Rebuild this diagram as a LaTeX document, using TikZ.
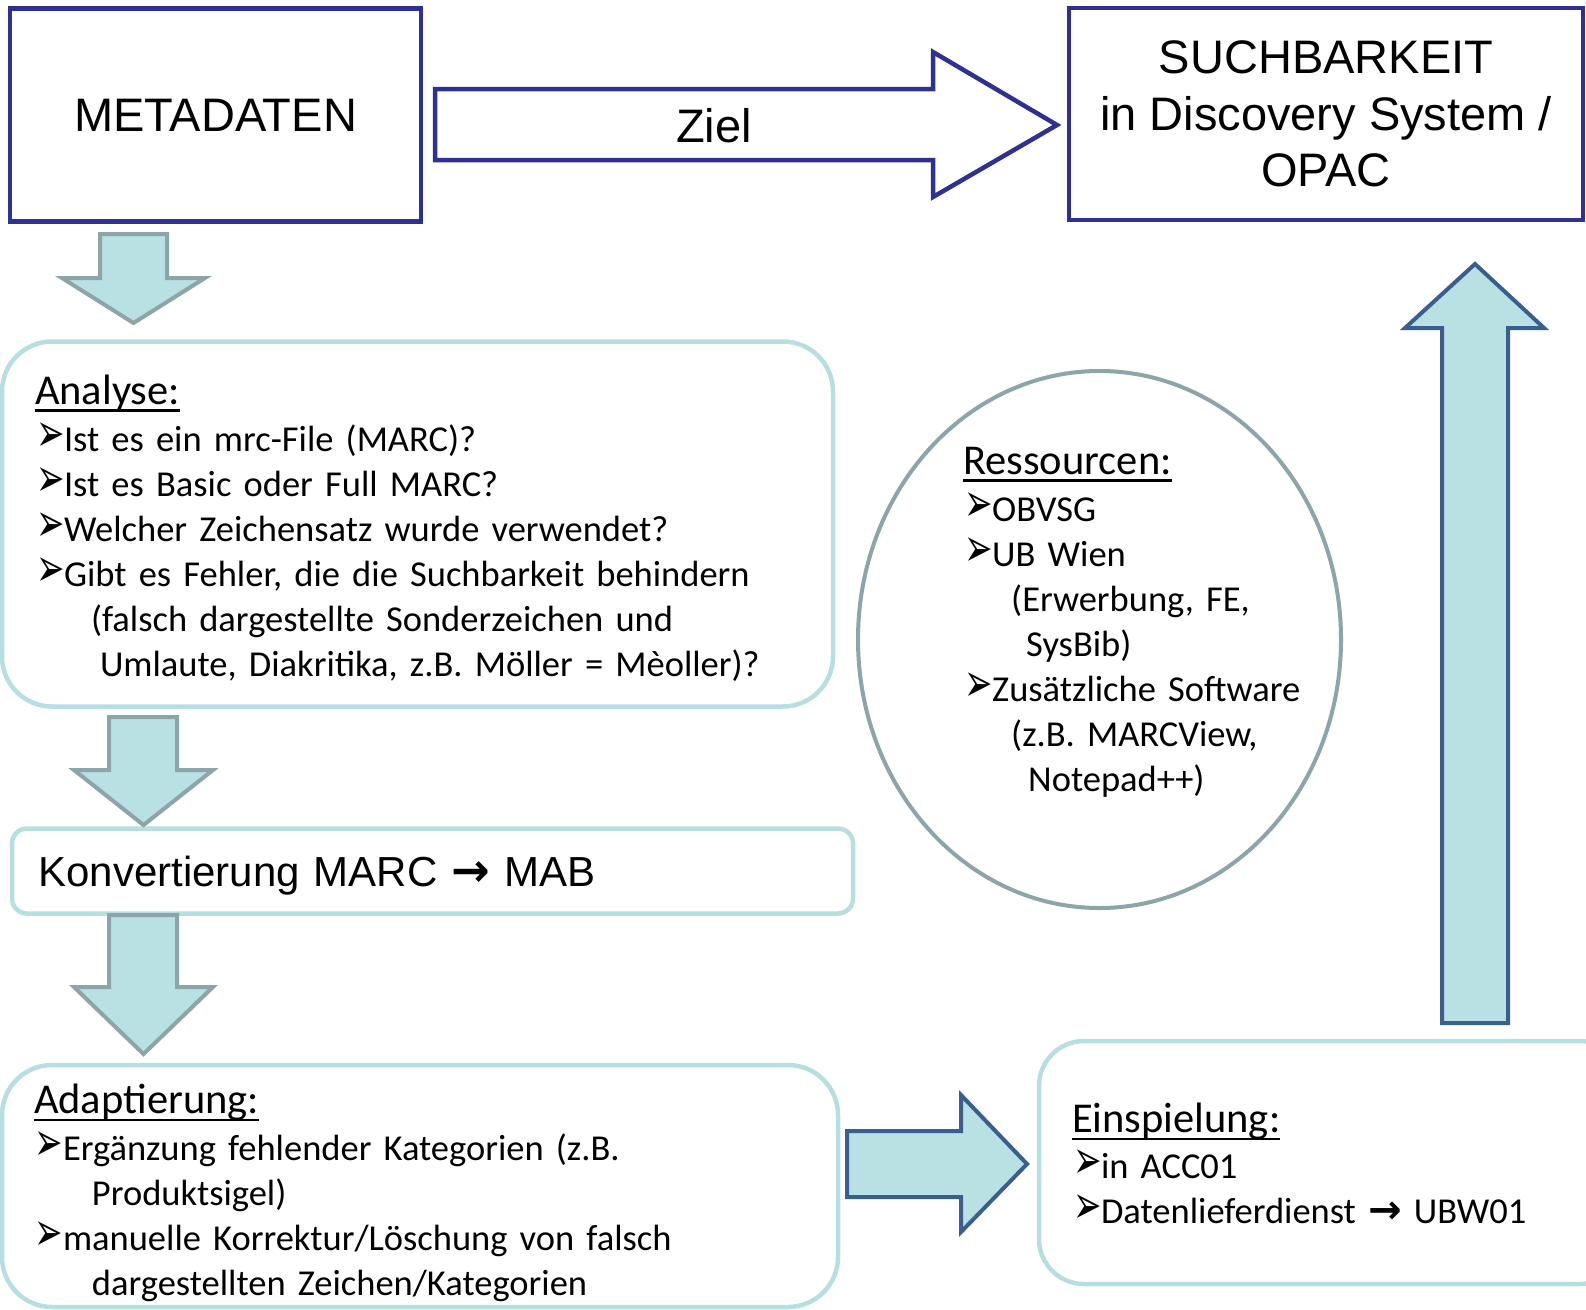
\documentclass[tikz,border=0pt]{standalone}
\usepackage{fontspec}
\usepackage{graphicx}
\setmainfont{Carlito}
\newfontfamily\arialfont{Liberation Sans}
\newfontfamily\symbolfont{DejaVu Sans}
\usetikzlibrary{shapes.geometric, positioning, calc}

\definecolor{navy}{RGB}{46,49,146}
\definecolor{cyanline}{RGB}{183,222,225}
\definecolor{cyanfill}{RGB}{185,224,227}
\definecolor{tealgrey}{RGB}{139,165,168}
\definecolor{steelblue}{RGB}{58,95,142}

% Aufzaehlungszeichen, Pfeil und unterstrichene Ueberschrift
\newcommand{\bul}{\makebox[29pt][l]{\hspace*{1pt}\scalebox{0.85}[1.35]{\symbolfont\fontsize{40}{40}\selectfont ➢}}}
\newcommand{\pfeil}{{\symbolfont\bfseries\fontsize{1.1em}{1em}\selectfont →}}
\newcommand{\kopf}[1]{{\fontsize{42.5}{45}\selectfont\setbox0\hbox{#1}\rlap{\rule[-7.7pt]{\wd0}{2.7pt}}\box0}}

\tikzset{
  titlebox/.style={rectangle, draw=navy, line width=4.5pt, fill=white, align=center, inner sep=0pt, font=\arialfont\fontsize{47}{56.6}\selectfont},
  infobox/.style={rectangle, rounded corners=50pt, draw=cyanline, line width=4.5pt, inner sep=0pt},
  textblock/.style={align=left, inner sep=0pt, font=\fontsize{36.5}{45}\selectfont\frenchspacing},
  greyarrow/.style={draw=tealgrey, fill=cyanfill, line width=4pt},
  bluearrow/.style={draw=steelblue, fill=cyanfill, line width=4pt},
  navyarrow/.style={draw=navy, fill=white, line width=4.5pt}
}

\begin{document}
\begin{tikzpicture}[x=1pt, y=-1pt]
  \useasboundingbox (0,0) rectangle (1586,1309);

  % Kopfzeile: Metadaten -> Suchbarkeit
  \node (meta) [titlebox, minimum width=411pt, minimum height=213pt] at (215.5,115) {METADATEN};
  \node (such) [titlebox, minimum width=514pt, minimum height=212pt] at (1326,114) {SUCHBARKEIT\\in Discovery System /\\OPAC};
  \draw [navyarrow] (435,89) -- (933,89) -- (933,52) -- (1057,125) -- (933,197) -- (933,160) -- (435,160) -- cycle;
  \node (ziel) [font=\arialfont\fontsize{47}{47}\selectfont, inner sep=0pt] at (714,126) {Ziel};

  % Analyse
  \node (analyse) [infobox, minimum width=831pt, minimum height=365pt] at (417.5,524) {};
  \node (analysetext) [textblock, text width=765pt] at ($(analyse.center)+(0,4)$) {\kopf{Analyse:}\\[2pt]
    \bul Ist es ein mrc-File (MARC)?\\
    \bul Ist es Basic oder Full MARC?\\
    \bul Welcher Zeichensatz wurde verwendet?\\
    \bul Gibt es Fehler, die die Suchbarkeit behindern\\
    \hspace*{56pt}(falsch dargestellte Sonderzeichen und\\
    \hspace*{65pt}Umlaute, Diakritika, z.B. Möller = Mèoller)?};

  % Konvertierung
  \node (konv) [infobox, rounded corners=15pt, minimum width=841pt, minimum height=85pt, align=left, text width=788pt, text height=30pt, text depth=0pt, font=\arialfont\fontsize{42}{42}\selectfont] at (432.5,871) {Konvertierung MARC \pfeil{} MAB};

  % Adaptierung
  \node (adapt) [infobox, minimum width=836pt, minimum height=242pt] at (420,1186) {};
  \node (adapttext) [textblock, text width=772pt] at ($(adapt.center)+(0,7)$) {\kopf{Adaptierung:}\\[2pt]
    \bul Ergänzung fehlender Kategorien (z.B.\\
    \hspace*{58pt}Produktsigel)\\
    \bul manuelle Korrektur/Löschung von falsch\\
    \hspace*{58pt}dargestellten Zeichen/Kategorien};

  % Einspielung
  \node (einsp) [infobox, rounded corners=45pt, minimum width=586pt, minimum height=243pt] at (1332,1162.5) {};
  \node (einsptext) [textblock, text width=520pt] at ($(einsp.center)+(0,1)$) {\kopf{Einspielung:}\\[1pt]
    \bul in ACC01\\
    \bul Datenlieferdienst \pfeil{} UBW01};

  % Ressourcen
  \node (res) [ellipse, draw=tealgrey, line width=4pt, minimum width=483pt, minimum height=537pt] at (1099.5,639.5) {};
  \node (restext) [textblock, anchor=north west, text width=360pt] at (963,447) {\kopf{Ressourcen:}\\[2pt]
    \bul OBVSG\\
    \bul UB Wien\\
    \hspace*{48pt}(Erwerbung, FE,\\
    \hspace*{63pt}SysBib)\\
    \bul Zusätzliche Software\\
    \hspace*{48pt}(z.B. MARCView,\\
    \hspace*{65pt}Notepad++)};

  % Blockpfeile
  \draw [greyarrow] (100,234) -- (167,234) -- (167,278) -- (205,278) -- (133.5,323) -- (62,278) -- (100,278) -- cycle;
  \draw [greyarrow] (109,717) -- (177,717) -- (177,770) -- (213,770) -- (143.5,825) -- (74,770) -- (109,770) -- cycle;
  \draw [greyarrow] (109,915) -- (177,915) -- (177,987) -- (213,987) -- (143.5,1054) -- (74,987) -- (109,987) -- cycle;
  \draw [bluearrow] (847,1131) -- (961,1131) -- (961,1095) -- (1027,1164) -- (961,1232) -- (961,1197) -- (847,1197) -- cycle;
  \draw [bluearrow] (1442,1023) -- (1442,328) -- (1405,328) -- (1475,264) -- (1544,328) -- (1508,328) -- (1508,1023) -- cycle;
\end{tikzpicture}
\end{document}
